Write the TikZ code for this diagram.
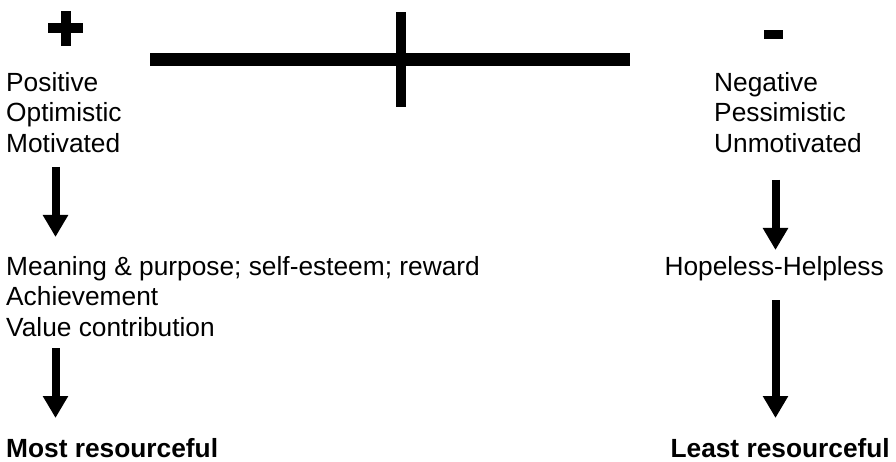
\documentclass[tikz,border=0pt]{standalone}
\usepackage{fontspec}
\setmainfont{Liberation Sans}
\usetikzlibrary{arrows.meta}
\begin{document}
\begin{tikzpicture}[x=1pt,y=-1pt,
  txt/.style={inner sep=0pt, font=\fontsize{26.3}{30.5}\selectfont},
  btxt/.style={inner sep=0pt, font=\fontsize{26.3}{30.5}\selectfont\bfseries},
  arr/.style={line width=8pt, -{Triangle[width=24pt,length=22pt]}},
  bar/.style={fill=black}]
\useasboundingbox (0,0) rectangle (896,462);
\fill[white] (0,0) rectangle (896,462);

% plus / minus signs
\fill[bar] (61,11) rectangle (71,46);
\fill[bar] (48,23) rectangle (83,33);
\fill[bar] (764,30) rectangle (783,39);

% scale bar
\fill[bar] (150,53.3) rectangle (630,65.7);
\fill[bar] (395.7,12) rectangle (405.7,107);

% left column
\node[txt, anchor=base west] (pos) at (6,91.7) {Positive};
\node[txt, anchor=base west] (opt) at (6,122) {Optimistic};
\node[txt, anchor=base west] (mot) at (6,152.5) {Motivated};
\node[txt, anchor=base west] (mea) at (6,275) {Meaning \& purpose; self-esteem; reward};
\node[txt, anchor=base west] (ach) at (6,305.5) {Achievement};
\node[txt, anchor=base west] (val) at (6,336) {Value contribution};
\node[btxt, anchor=base west] (most) at (6,457) {Most resourceful};

% right column
\node[txt, anchor=base west] (neg) at (714,91.7) {Negative};
\node[txt, anchor=base west] (pes) at (714,122) {Pessimistic};
\node[txt, anchor=base west] (unm) at (714,152.5) {Unmotivated};
\node[txt, anchor=base east] (hop) at (884,275) {Hopeless-Helpless};
\node[btxt, anchor=base east] (least) at (890,457) {Least resourceful};

% arrow end points
\coordinate (l1s) at (55.5,167);
\coordinate (l1e) at (55.5,237);
\coordinate (l2s) at (55.5,348);
\coordinate (l2e) at (55.5,418);
\coordinate (r1s) at (775.5,180);
\coordinate (r1e) at (775.5,250);
\coordinate (r2s) at (775.5,300);
\coordinate (r2e) at (775.5,418);

\draw[arr] (l1s) -- (l1e);
\draw[arr] (l2s) -- (l2e);
\draw[arr] (r1s) -- (r1e);
\draw[arr] (r2s) -- (r2e);
\end{tikzpicture}
\end{document}
